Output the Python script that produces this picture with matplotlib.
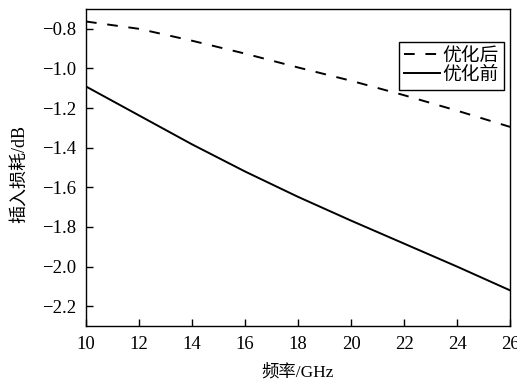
import matplotlib
matplotlib.use('Agg')
import matplotlib.pyplot as plt
import numpy as np

# 频率 (GHz)
freq = [10, 12, 14, 16, 18, 20, 22, 24, 26]
# 插入损耗 (dB)
loss_after = [-0.763, -0.800, -0.860, -0.925, -0.995, -1.062, -1.135, -1.213, -1.295]
loss_before = [-1.091, -1.237, -1.383, -1.520, -1.648, -1.768, -1.884, -2.000, -2.120]

xticks = [10, 12, 14, 16, 18, 20, 22, 24, 26]
yticks = [-0.8, -1.0, -1.2, -1.4, -1.6, -1.8, -2.0, -2.2]

fam = ['Liberation Serif', 'Noto Sans CJK SC']
plt.rcParams['font.family'] = fam

fig = plt.figure(figsize=(5.17, 3.82), dpi=100)
ax = fig.add_axes([0.1663, 0.1466, 0.8202, 0.8298])

ax.plot(freq, loss_after, color='black', lw=1.4, dashes=(5.5, 5.5), label='优化后')
ax.plot(freq, loss_before, color='black', lw=1.4, label='优化前')

ax.set_xlim(10, 26)
ax.set_ylim(-2.3, -0.7)
ax.set_xticks(xticks)
ax.set_yticks(yticks)
ax.set_yticklabels([('%.1f' % v).replace('-', '\u2212') for v in yticks])
ax.tick_params(direction='in', length=5, width=1, labelsize=13.5, pad=7)
for s in ax.spines.values():
    s.set_linewidth(1)

ax.set_xlabel('频率/GHz', fontsize=12.5, labelpad=8)
ax.set_ylabel('插入损耗/dB', fontsize=13)
ax.yaxis.set_label_coords(-0.137, 0.48)

leg = ax.legend(loc='upper right', bbox_to_anchor=(0.985, 0.895), fontsize=13.5,
                frameon=True, fancybox=False, edgecolor='black', framealpha=1,
                handlelength=1.9, handletextpad=0.1, borderpad=0.3,
                labelspacing=0.1, borderaxespad=0)
leg.get_frame().set_linewidth(1)

fig.savefig('out.png', dpi=100)
